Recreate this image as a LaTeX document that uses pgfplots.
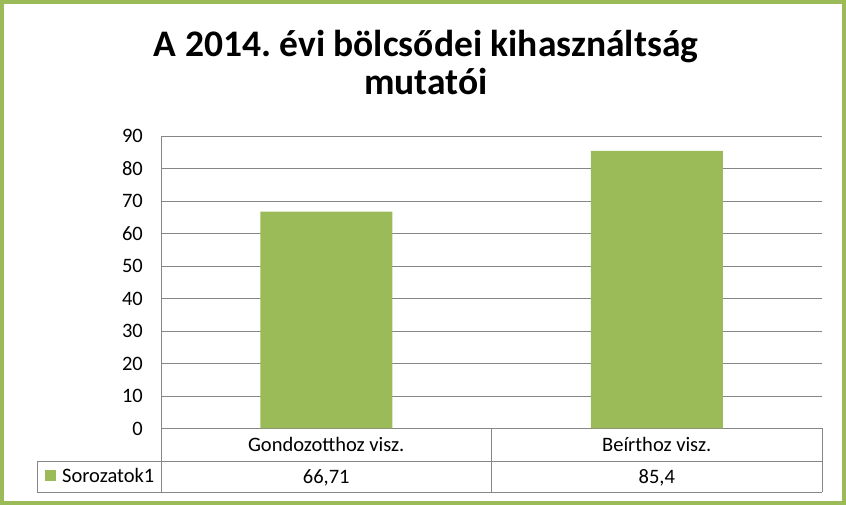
\documentclass[border=0pt]{standalone}
\usepackage{pgfplots}
\pgfplotsset{compat=1.18}
\usepackage{fontspec}
\setmainfont{Carlito}
\frenchspacing
\definecolor{xlgreen}{HTML}{9BBB59}
\definecolor{xlgrid}{HTML}{868686}
\begin{document}
\begin{tikzpicture}[x=1bp,y=1bp]
% page frame / green chart border
\path (0,0) rectangle (846,505);
\draw[xlgreen, line width=4bp] (2,2) rectangle (844,503);

% title (anchor=base sits on the last line)
\node[font=\fontsize{37.5bp}{38bp}\selectfont\bfseries, align=center, anchor=base, inner sep=0pt]
  at (426,410) {A 2014. évi bölcsődei kihasználtság\\mutatói};

\begin{axis}[
  at={(161bp,76.5bp)}, anchor=south west,
  scale only axis, width=661bp, height=292.5bp,
  ybar, bar width=132bp,
  xmin=-0.5, xmax=1.5, ymin=0, ymax=90,
  xtick={0,1},
  xticklabels={{Gondozotthoz visz.\\66,71},{Beírthoz visz.\\85,4}},
  ytick={0,10,...,90},
  axis x line*=bottom, axis y line*=left,
  axis line style={xlgrid, line width=0.9bp},
  major tick length=0pt,
  ymajorgrids, grid style={xlgrid, line width=0.9bp},
  /pgf/number format/assume math mode=true,
  yticklabel style={font=\fontsize{20.5bp}{24bp}\selectfont, anchor=east, inner sep=0pt, xshift=-18bp},
  xticklabel style={font=\fontsize{20.5bp}{31.5bp}\selectfont, align=center, anchor=north, inner sep=0pt, yshift=-9bp},
  clip=false,
  legend entries={Sorozatok1},
  legend style={at={(-0.1755,-0.1624)}, anchor=west, draw=none, fill=none, inner sep=0pt,
    font=\fontsize{20.5bp}{24bp}\selectfont},
  legend image code/.code={\fill[xlgreen] (0bp,-5.5bp) rectangle (11bp,5.5bp); \path (15bp,0bp);},
  legend cell align=left,
]
\addplot[fill=xlgreen, draw=none] coordinates {(0,66.71) (1,85.4)};
\end{axis}

% data table grid
\begin{scope}[xlgrid, line width=0.9bp]
  \draw (37,44) -- (822,44);
  \draw (37,13) -- (822,13);
  \draw (37,13) -- (37,44);
  \draw (161,13) -- (161,77);
  \draw (491.5,13) -- (491.5,77);
  \draw (822,13) -- (822,77);
\end{scope}
\end{tikzpicture}
\end{document}
